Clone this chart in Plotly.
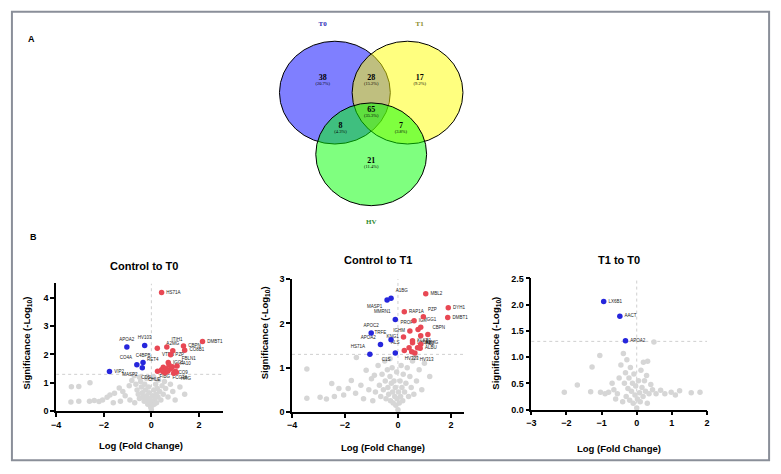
import plotly.graph_objects as go

W, H = 781, 474

# ---------------- data ----------------
# Venn (proteins identified per group)
venn_sets = ["T0", "T1", "HV"]
venn_regions = ["T0 only", "T0&T1", "T1 only", "T0&T1&HV", "T0&HV", "T1&HV", "HV only"]
venn_counts = [38, 28, 17, 65, 8, 7, 21]

# Panel 1: Control to T0
p1_gray_x = [-3.36, -3.05, -3.38, -3.05, -2.58, -2.6, -2.4, -2.2, -2.05, -1.86, -1.74, -1.55, -1.35, -1.2,
             -1.1, -0.93, -0.82, -0.72, -0.65, -0.6, -0.55, -0.5, -0.45, -0.42, -0.38, -0.35, -0.3, -0.28,
             -0.25, -0.2, -0.18, -0.15, -0.12, -0.1, -0.08, -0.05, -0.03, 0.0, 0.03, 0.05, 0.08, 0.1, 0.12,
             0.15, 0.18, 0.2, 0.22, 0.25, 0.28, 0.3, 0.35, 0.4, 0.45, 0.5, 0.55, 0.6, 0.7, 0.8, 0.9, 1.0,
             1.2, 1.4, -0.7, -0.9, -1.3, -1.6, -0.2, 0.1, -0.5]
p1_gray_y = [0.86, 0.87, 0.33, 0.35, 1.0, 0.35, 0.38, 0.34, 0.40, 0.49, 0.57, 0.63, 0.82, 0.7,
             0.55, 0.9, 1.08, 1.25, 0.95, 0.75, 0.6, 0.45, 1.05, 0.85, 0.65, 0.5, 0.35, 0.95,
             0.75, 0.55, 0.4, 0.25, 0.85, 0.65, 0.45, 0.3, 0.15, 0.05, 0.2, 0.55, 0.35, 0.75, 0.25,
             0.45, 0.95, 0.6, 0.3, 0.8, 0.5, 1.1, 0.7, 0.4, 0.9, 0.6, 1.05, 0.8, 0.5, 0.95, 0.7, 0.4,
             0.85, 0.6, 0.3, 0.4, 0.35, 0.3, 1.15, 1.2, 1.2]
p1_down_x = [-1.03, -0.28, -0.61, -0.35, -0.38, -1.76]
p1_down_y = [2.26, 2.32, 1.64, 1.72, 1.53, 1.40]
p1_down_lab = ["APOA2", "HV103", "CO4A", "C4BPB", "MASP2", "VIP2"]
p1_up_x = [0.43, 2.15, 1.35, 1.40, 0.65, 0.90, 0.25, 0.81, 0.71, 1.08, 1.01, 0.94, 0.50, 0.26,
           0.56, 0.43, 0.74, 0.81, 0.57, 0.88, 0.69, 1.05, 0.62, 0.48]
p1_up_y = [4.18, 2.46, 2.30, 2.15, 2.26, 2.13, 2.22, 1.99, 1.72, 1.59, 1.41, 1.34, 1.55, 1.41,
           1.44, 1.46, 1.64, 1.49, 1.36, 1.57, 1.41, 1.37, 1.50, 1.40]
p1_up_lab = ["HS71A", "DMBT1", "CBPN", "CO8B1", "ITIH1", "A2MG", "VTDB", "PZP", "IGG1", "FBLN1",
             "FA10", "CO9", "RET4", "CD5L", "FIBG", "", "", "", "CHLE", "", "FCG3A", "HRG", "", ""]

# Panel 2: Control to T1
p2_gray_x = [-3.44, -3.44, -2.94, -2.7, -2.5, -2.4, -2.23, -2.05, -1.88, -1.76, -1.57, -1.6, -1.4, -1.2,
             -1.1, -1.0, -0.89, -0.85, -0.75, -0.7, -0.65, -0.6, -0.55, -0.5, -0.48, -0.45, -0.4, -0.38,
             -0.35, -0.3, -0.28, -0.25, -0.22, -0.2, -0.18, -0.15, -0.12, -0.1, -0.08, -0.05, -0.03, 0.0,
             0.02, 0.05, 0.08, 0.1, 0.12, 0.15, 0.18, 0.2, 0.25, 0.3, 0.35, 0.4, 0.45, 0.5, 0.55, 0.6,
             0.7, 0.8, 0.9, 1.0, 1.2, -1.3, -0.95, 0.65, -0.3]
p2_gray_y = [0.97, 0.31, 0.33, 0.29, 0.64, 0.35, 0.53, 0.38, 0.53, 0.71, 1.23, 0.42, 0.6, 0.94,
             0.5, 0.75, 0.83, 0.45, 1.05, 0.6, 0.35, 0.85, 0.5, 1.15, 0.7, 0.3, 0.95, 0.55,
             0.4, 0.8, 0.25, 0.65, 1.0, 0.45, 0.2, 0.7, 0.35, 0.55, 0.15, 0.9, 0.3, 0.05,
             0.45, 0.2, 0.7, 0.35, 1.05, 0.55, 0.25, 0.85, 0.45, 0.65, 1.0, 0.35, 0.8, 0.55, 1.15, 0.4,
             0.7, 0.95, 0.5, 1.1, 0.8, 0.3, 0.25, 1.25, 1.2]
p2_down_x = [-0.41, -0.26, -0.10, -1.01, -0.26, -0.66, -1.06, -0.10]
p2_down_y = [2.53, 2.57, 2.09, 1.78, 1.63, 1.52, 1.30, 1.33]
p2_down_lab = ["MASP1", "A1BG", "MMRN1", "APOC2", "TRFE", "APOA2", "HS71A", "C1S"]
p2_up_x = [1.05, 1.90, 1.88, 0.24, 0.96, 0.61, 0.76, 0.45, 0.86, 1.13, 0.21, 0.55, 0.86, 0.86,
           0.74, 0.84, 0.24, 0.42, 0.64, 0.52, 0.55]
p2_up_y = [2.67, 2.35, 2.13, 2.26, 2.15, 2.06, 1.86, 1.83, 1.91, 1.75, 1.69, 1.61, 1.72, 1.53,
           1.45, 1.44, 1.39, 1.45, 1.33, 1.36, 1.56]
p2_up_lab = ["MBL2", "DYH1", "DMBT1", "RAP1A", "PZP", "IGK", "PROP", "IGHM", "IGG1", "CBPN", "KNG1",
             "KLKB1", "A2MG", "HB2", "", "ALBU", "ALS", "", "HV313", "HV323", "LX6B1"]

# Panel 3: T1 to T0
p3_gray_x = [-2.06, -1.69, -1.31, -1.27, -1.05, -1.03, -0.8, -0.65, -0.55, -0.5, -0.45, -0.38, -0.35,
             -0.32, -0.3, -0.28, -0.25, -0.22, -0.2, -0.18, -0.15, -0.12, -0.1, -0.08, -0.05, -0.03,
             0.0, 0.02, 0.05, 0.08, 0.1, 0.12, 0.15, 0.18, 0.19, 0.22, 0.25, 0.28, 0.31, 0.35, 0.4, 0.45,
             0.49, 0.55, 0.68, 0.8, 0.98, 1.1, 1.22, 1.55, 1.8, -0.6, -0.4, 0.3, -0.9, -0.7]
p3_gray_y = [0.33, 0.47, 0.34, 0.81, 1.03, 0.33, 0.33, 0.38, 0.3, 0.6, 0.85, 1.07, 0.5,
             0.7, 0.25, 0.95, 0.4, 0.6, 0.18, 0.8, 0.35, 0.5, 0.12, 0.68, 0.28, 0.45,
             0.03, 0.2, 0.55, 0.32, 0.15, 0.75, 0.42, 0.25, 0.9, 0.55, 0.35, 0.65, 0.92, 0.3, 0.48, 0.38,
             1.29, 0.3, 0.37, 0.3, 0.33, 0.28, 0.36, 0.32, 0.33, 0.2, 0.15, 0.12, 0.3, 0.5]
p3_down_x = [-0.94, -0.48, -0.32]
p3_down_y = [2.06, 1.78, 1.31]
p3_down_lab = ["LX6B1", "AACT", "APOA2"]

panel_titles = ["Control to T0", "Control to T1", "T1 to T0"]
x_title = "Log (Fold Change)"
y_title = "Significance (-Log<sub>10</sub>)"
sig_threshold = 1.3

# ---------------- styling / layout constants ----------------
def px(x):
    return x / W


def py(y):
    return 1 - y / H


RED = "rgb(232,72,84)"
BLUE = "rgb(38,38,220)"
GRAY = "rgb(214,214,214)"
SANS = "Liberation Sans"
SERIF = "Liberation Serif"

fig = go.Figure()

# --- Venn (on a hidden pixel axis) ---
venn_centers = {"T0": (333.3, 89.5), "T1": (406.7, 89.5), "HV": (370.0, 152.5)}
venn_fill = {"T0": "rgba(0,0,255,0.5)", "T1": "rgba(255,255,0,0.5)", "HV": "rgba(0,255,0,0.5)"}
venn_title_color = {"T0": "#2b2bb8", "T1": "#8a8a2a", "HV": "#2f8a2f"}
venn_title_pos = {"T0": (321, 20), "T1": (419, 20), "HV": (370, 222)}
RX, RY = 56, 52.5
region_pos = [(321, 76), (370, 76), (419, 76), (370, 108), (339, 125), (400, 125), (370, 160)]

shapes = []
for s in venn_sets:
    cx, cy = venn_centers[s]
    shapes.append(dict(type="circle", xref="x4", yref="y4", x0=cx - RX, x1=cx + RX, y0=cy - RY, y1=cy + RY,
                       fillcolor=venn_fill[s], line=dict(color="black", width=1), layer="below"))

total = sum(venn_counts)
fig.add_trace(go.Scatter(
    x=[p[0] for p in region_pos], y=[p[1] - 1 for p in region_pos], mode="text",
    text=[f"<b>{c}</b>" for c in venn_counts],
    textfont=dict(family=SERIF, size=8, color="black"),
    xaxis="x4", yaxis="y4", showlegend=False, hoverinfo="skip"))
fig.add_trace(go.Scatter(
    x=[p[0] for p in region_pos], y=[p[1] + 5 for p in region_pos], mode="text",
    text=[f"({100 * c / total:.1f}%)" for c in venn_counts],
    textfont=dict(family=SERIF, size=4.5, color="black"),
    xaxis="x4", yaxis="y4", showlegend=False, hoverinfo="skip"))
fig.add_trace(go.Scatter(
    x=[venn_title_pos[s][0] for s in venn_sets], y=[venn_title_pos[s][1] for s in venn_sets], mode="text",
    text=[f"<b>{s}</b>" for s in venn_sets],
    textfont=dict(family=SERIF, size=7, color=[venn_title_color[s] for s in venn_sets]),
    xaxis="x4", yaxis="y4", showlegend=False, hoverinfo="skip"))

# --- Volcano panels ---
p1_up_pos = ["middle right", "middle right", "middle right", "middle right", "top right", "top center",
             "bottom right", "middle right", "middle right", "top right", "top right", "middle right",
             "top left", "bottom left", "bottom center", "middle right", "middle right", "middle right",
             "bottom left", "middle right", "bottom right", "bottom right", "middle right", "middle right"]
p1_down_pos = ["top center", "top center", "top left", "top center", "bottom left", "middle right"]
p2_up_pos = ["middle right", "middle right", "middle right", "middle right", "top right", "middle right",
             "top left", "middle left", "top right", "top right", "middle left", "middle right",
             "bottom right", "middle right", "middle right", "middle right", "top left", "middle right",
             "bottom right", "bottom center", "middle right"]
p2_down_pos = ["bottom left", "top right", "top left", "top center", "top left", "top left", "top left",
               "bottom left"]
p3_down_pos = ["middle right", "middle right", "middle right"]

panels = [
    dict(gx=p1_gray_x, gy=p1_gray_y,
         groups=[(p1_up_x, p1_up_y, p1_up_lab, p1_up_pos, RED), (p1_down_x, p1_down_y, p1_down_lab, p1_down_pos, BLUE)]),
    dict(gx=p2_gray_x, gy=p2_gray_y,
         groups=[(p2_up_x, p2_up_y, p2_up_lab, p2_up_pos, RED), (p2_down_x, p2_down_y, p2_down_lab, p2_down_pos, BLUE)]),
    dict(gx=p3_gray_x, gy=p3_gray_y,
         groups=[(p3_down_x, p3_down_y, p3_down_lab, p3_down_pos, BLUE)]),
]

axis_names = [("x", "y"), ("x2", "y2"), ("x3", "y3")]
lab_font = dict(family=SANS, size=4.5, color="#222")
for i, p in enumerate(panels):
    xa, ya = axis_names[i]
    fig.add_trace(go.Scatter(x=p["gx"], y=p["gy"], mode="markers", xaxis=xa, yaxis=ya,
                             marker=dict(color=GRAY, size=5.5), showlegend=False, cliponaxis=False))
    for gx, gy, gl, gp, col in p["groups"]:
        idx = [k for k, t in enumerate(gl) if t]
        # labels first (invisible marker keeps the text offset from the point)
        fig.add_trace(go.Scatter(x=[gx[k] for k in idx], y=[gy[k] for k in idx], mode="markers+text",
                                 text=[gl[k] for k in idx], textposition=[gp[k] for k in idx],
                                 marker=dict(color="rgba(0,0,0,0)", size=6),
                                 textfont=lab_font, xaxis=xa, yaxis=ya, showlegend=False,
                                 cliponaxis=False, hoverinfo="skip"))
        fig.add_trace(go.Scatter(x=gx, y=gy, mode="markers", xaxis=xa, yaxis=ya,
                                 marker=dict(color=col, size=5.5), showlegend=False, cliponaxis=False))

# axis geometry (pixels)
x_ranges = [[-4, 3], [-4, 2.5], [-3, 2]]
y_ranges = [[0, 4.5], [0, 3], [0, 2.5]]
x_ticks = [[-4, -2, 0, 2], [-4, -2, 0, 2], [-3, -2, -1, 0, 1, 2]]
y_ticks = [[0, 1, 2, 3, 4], [0, 1, 2, 3], [0, 0.5, 1.0, 1.5, 2.0, 2.5]]
y_fmt = ["d", "d", ".1f"]
x_px = [(51.7, 220.0), (290.0, 463.9), (531.7, 709.3)]
y_px = [(415.0, 284.5), (415.7, 280.0), (413.3, 279.3)]

axis_common = dict(showline=True, linecolor="black", linewidth=1.5, ticks="outside", ticklen=4,
                   tickwidth=1.5, tickcolor="black", showgrid=False, zeroline=False, fixedrange=True,
                   tickfont=dict(family=SANS, size=9, color="black", weight="bold"))
layout_axes = {}
for i in range(3):
    sfx = "" if i == 0 else str(i + 1)
    layout_axes["xaxis" + sfx] = dict(axis_common, domain=[px(x_px[i][0]), px(x_px[i][1])],
                                      range=x_ranges[i], tickvals=x_ticks[i],
                                      anchor="y" + sfx)
    layout_axes["yaxis" + sfx] = dict(axis_common, domain=[py(y_px[i][0]), py(y_px[i][1])],
                                      range=y_ranges[i], tickvals=y_ticks[i], tickformat=y_fmt[i],
                                      anchor="x" + sfx)
    # threshold lines
    shapes.append(dict(type="line", xref="x" + sfx, yref="y" + sfx, x0=x_ranges[i][0], x1=x_ranges[i][1],
                       y0=sig_threshold, y1=sig_threshold, line=dict(color="#cfcfcf", width=1, dash="dot"),
                       layer="below"))
    shapes.append(dict(type="line", xref="x" + sfx, yref="y" + sfx, x0=0, x1=0,
                       y0=y_ranges[i][0], y1=y_ranges[i][1], line=dict(color="#cfcfcf", width=1, dash="dot"),
                       layer="below"))
layout_axes["xaxis4"] = dict(domain=[0, 1], range=[0, W], visible=False, fixedrange=True, anchor="y4")
layout_axes["yaxis4"] = dict(domain=[0, 1], range=[H, 0], visible=False, fixedrange=True, anchor="x4")

# outer frame
shapes.append(dict(type="rect", xref="paper", yref="paper", x0=px(7), x1=px(772), y0=py(465), y1=py(7),
                   line=dict(color="#8a8f99", width=2), fillcolor="rgba(0,0,0,0)", layer="below"))

annotations = []
title_pos = [(140, 267), (377, 260), (620, 260)]
xt_pos = [(137, 450), (382, 452), (620, 453)]
yt_pos = [(22, 345), (263, 335), (496, 345)]
for i in range(3):
    annotations.append(dict(text=f"<b>{panel_titles[i]}</b>", x=px(title_pos[i][0]), y=py(title_pos[i][1]),
                            xref="paper", yref="paper", showarrow=False, xanchor="center", yanchor="middle",
                            font=dict(family=SANS, size=11, color="black")))
    annotations.append(dict(text=f"<b>{x_title}</b>", x=px(xt_pos[i][0]), y=py(xt_pos[i][1]),
                            xref="paper", yref="paper", showarrow=False, xanchor="center", yanchor="middle",
                            font=dict(family=SANS, size=9.5, color="black")))
    annotations.append(dict(text=f"<b>{y_title}</b>", x=px(yt_pos[i][0]), y=py(yt_pos[i][1]),
                            xref="paper", yref="paper", showarrow=False, xanchor="center", yanchor="middle",
                            textangle=-90, font=dict(family=SANS, size=9.5, color="black")))
for letter, (lx, ly) in [("A", (27, 35)), ("B", (29, 237))]:
    annotations.append(dict(text=f"<b>{letter}</b>", x=px(lx), y=py(ly), xref="paper", yref="paper",
                            showarrow=False, xanchor="center", yanchor="middle",
                            font=dict(family=SANS, size=9, color="black")))

fig.update_layout(width=W, height=H, margin=dict(l=0, r=0, t=0, b=0), paper_bgcolor="white",
                  plot_bgcolor="rgba(0,0,0,0)", shapes=shapes, annotations=annotations, showlegend=False,
                  **layout_axes)

fig.write_html("out.html", config={"displayModeBar": False},
               post_script="document.body.style.margin='0';document.body.style.overflow='hidden';")
